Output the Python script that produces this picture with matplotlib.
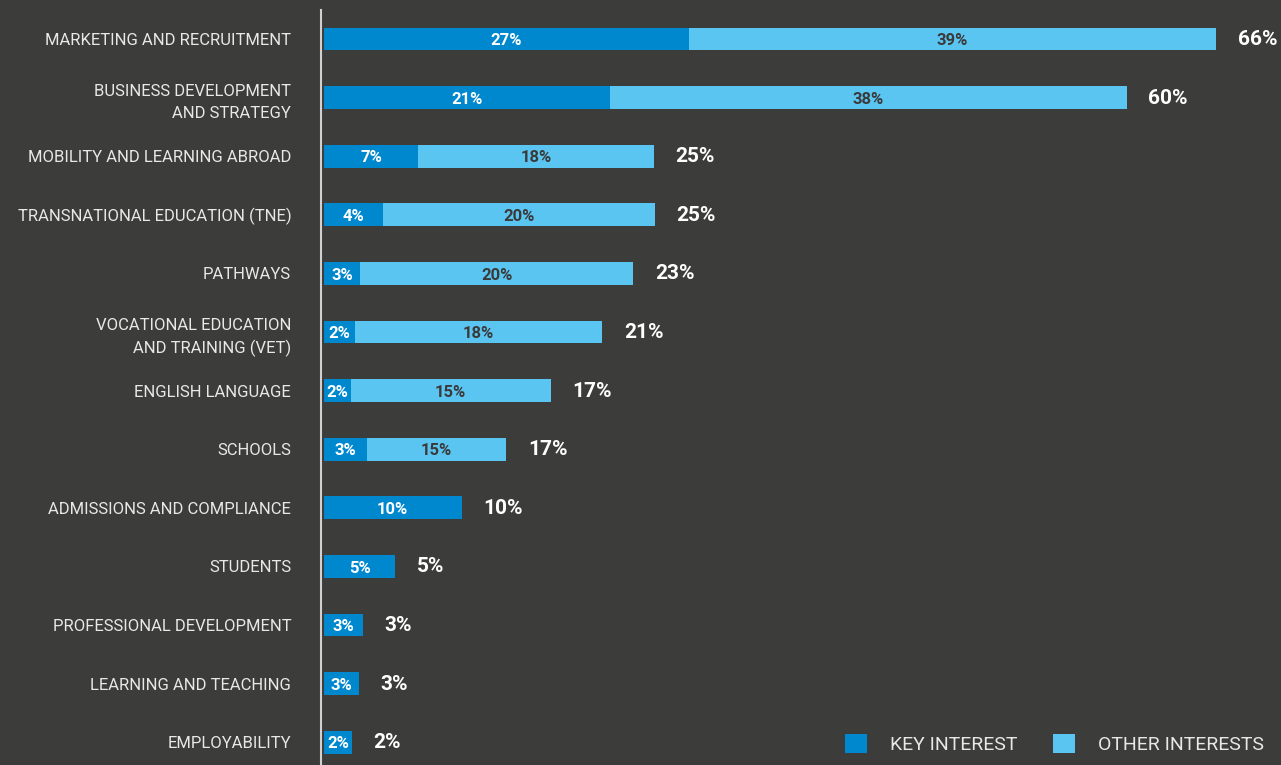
import matplotlib.pyplot as plt
from matplotlib.patches import Patch

# datos (en %)
categorias = [
    "MARKETING AND RECRUITMENT",
    "BUSINESS DEVELOPMENT\nAND STRATEGY",
    "MOBILITY AND LEARNING ABROAD",
    "TRANSNATIONAL EDUCATION (TNE)",
    "PATHWAYS",
    "VOCATIONAL EDUCATION\nAND TRAINING (VET)",
    "ENGLISH LANGUAGE",
    "SCHOOLS",
    "ADMISSIONS AND COMPLIANCE",
    "STUDENTS",
    "PROFESSIONAL DEVELOPMENT",
    "LEARNING AND TEACHING",
    "EMPLOYABILITY",
]
key_interest = [27.0, 21.2, 7.0, 4.4, 2.7, 2.3, 2.0, 3.2, 10.2, 5.3, 2.9, 2.6, 2.1]
other_interests = [39.0, 38.2, 17.4, 20.1, 20.2, 18.3, 14.8, 10.3, 0, 0, 0, 0, 0]
etiquetas_key = ["27%", "21%", "7%", "4%", "3%", "2%", "2%", "3%", "10%", "5%", "3%", "3%", "2%"]
etiquetas_other = ["39%", "38%", "18%", "20%", "20%", "18%", "15%", "15%", "", "", "", "", ""]
etiquetas_total = ["66%", "60%", "25%", "25%", "23%", "21%", "17%", "17%", "10%", "5%", "3%", "3%", "2%"]

fondo = "#3c3c3b"
azul = "#0088cf"
celeste = "#5bc5f2"
texto = "#e8e8e8"

plt.rcParams["font.family"] = ["Roboto", "DejaVu Sans"]

fig = plt.figure(figsize=(12.81, 7.65), dpi=100, facecolor=fondo)
ax = fig.add_axes([321 / 1281, 0, 960 / 1281, 755 / 765])
ax.set_facecolor(fondo)

y = list(range(len(categorias)))
alto = 0.39

ax.barh(y, key_interest, height=alto, color=azul, edgecolor="none")
ax.barh(y, other_interests, left=key_interest, height=alto, color=celeste, edgecolor="none")

for i in y:
    k = key_interest[i]
    o = other_interests[i]
    ax.text(k / 2, i + 0.03, etiquetas_key[i], ha="center", va="center",
            color="white", fontsize=12, fontweight="bold")
    if o > 0:
        ax.text(k + o / 2, i + 0.03, etiquetas_other[i], ha="center", va="center",
                color="#3a3a3a", fontsize=12, fontweight="bold")
    ax.text(k + o + 1.6, i + 0.01, etiquetas_total[i], ha="left", va="center",
            color="white", fontsize=15, fontweight="bold")

ax.set_xlim(-0.2, 70.8)
ax.set_ylim(12.39, -0.495)
ax.set_xticks([])
ax.set_yticks(y)
ax.set_yticklabels(categorias, fontsize=12, color=texto, linespacing=1.55)
ax.tick_params(axis="y", length=0, pad=21.5)

for s in ["top", "right", "bottom"]:
    ax.spines[s].set_visible(False)
ax.spines["left"].set_color("#d0d0d0")
ax.spines["left"].set_linewidth(1.5)

manejadores = [Patch(facecolor=azul), Patch(facecolor=celeste)]
leg = fig.legend(manejadores, ["KEY INTEREST", "OTHER INTERESTS"], loc="lower right",
                 bbox_to_anchor=(1 - 4 / 1281, -2 / 765), ncol=2, frameon=False, fontsize=14,
                 handlelength=1.15, handleheight=1.15, handletextpad=1.2,
                 columnspacing=1.8, borderaxespad=0.25)
for t in leg.get_texts():
    t.set_color(texto)

fig.savefig("out.png", dpi=100, facecolor=fondo)
